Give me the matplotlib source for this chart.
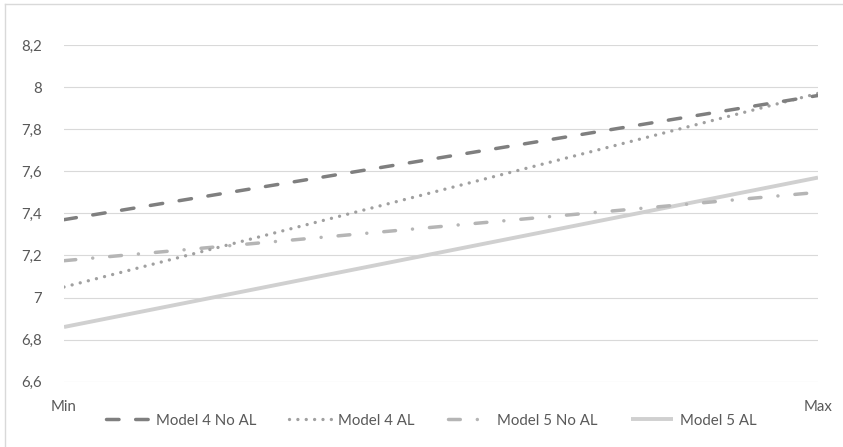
import matplotlib.pyplot as plt
from matplotlib.lines import Line2D
from matplotlib.ticker import FuncFormatter

plt.rcParams['font.family'] = ['Lato', 'DejaVu Sans']

x_labels = ['Min', 'Max']
m4_no_al = [7.37, 7.96]
m4_al = [7.05, 7.97]
m5_no_al = [7.175, 7.50]
m5_al = [6.86, 7.57]
y_ticks = [6.6, 6.8, 7.0, 7.2, 7.4, 7.6, 7.8, 8.0, 8.2]

W, H = 843, 447
fig = plt.figure(figsize=(W / 100, H / 100), dpi=100)
ax = fig.add_axes([64 / W, 1 - 381.7 / H, (818 - 64) / W, (381.7 - 45) / H])

xs = range(len(x_labels))
ax.plot(xs, m4_no_al, color='#7f7f7f', lw=2.5, dashes=(3.6, 4.8),
        dash_capstyle='round', label='Model 4 No AL', zorder=5)
ax.plot(xs, m4_al, color='#a0a0a0', lw=2.4, dashes=(0.01, 2.5),
        dash_capstyle='round', label='Model 4 AL', zorder=4)
ax.plot(xs, m5_no_al, color='#b5b5b5', lw=2.5, dashes=(3.4, 4.9, 0.01, 4.9),
        dash_capstyle='round', label='Model 5 No AL', zorder=3)
ax.plot(xs, m5_al, color='#d0d0d0', lw=2.8, solid_capstyle='butt',
        label='Model 5 AL', zorder=2)

ax.set_xlim(0, 1)
ax.set_ylim(6.6, 8.2)
ax.set_xticks(list(xs))
ax.set_xticklabels(x_labels)
ax.set_yticks(y_ticks)
ax.yaxis.set_major_formatter(FuncFormatter(lambda v, p: f'{v:g}'.replace('.', ',')))
ax.tick_params(axis='both', length=0, labelsize=10.8, colors='#595959')
ax.tick_params(axis='y', pad=16)
ax.tick_params(axis='x', pad=13)
ax.grid(axis='y', color='#d9d9d9', lw=0.8)
ax.set_axisbelow(True)
for s in ax.spines.values():
    s.set_visible(False)

fig.legend(loc='center', bbox_to_anchor=(0.512, 0.059), ncol=4, frameon=False,
           fontsize=10.8, labelcolor='#595959', handlelength=2.8,
           handletextpad=0.5, columnspacing=2.2)

# chart border
fig.add_artist(Line2D([5 / W, 5 / W], [0, 1 - 4 / H], color='#d9d9d9', lw=1))
fig.add_artist(Line2D([5 / W, 1], [1 - 4 / H, 1 - 4 / H], color='#d9d9d9', lw=1))

fig.savefig('out.png', dpi=100)
